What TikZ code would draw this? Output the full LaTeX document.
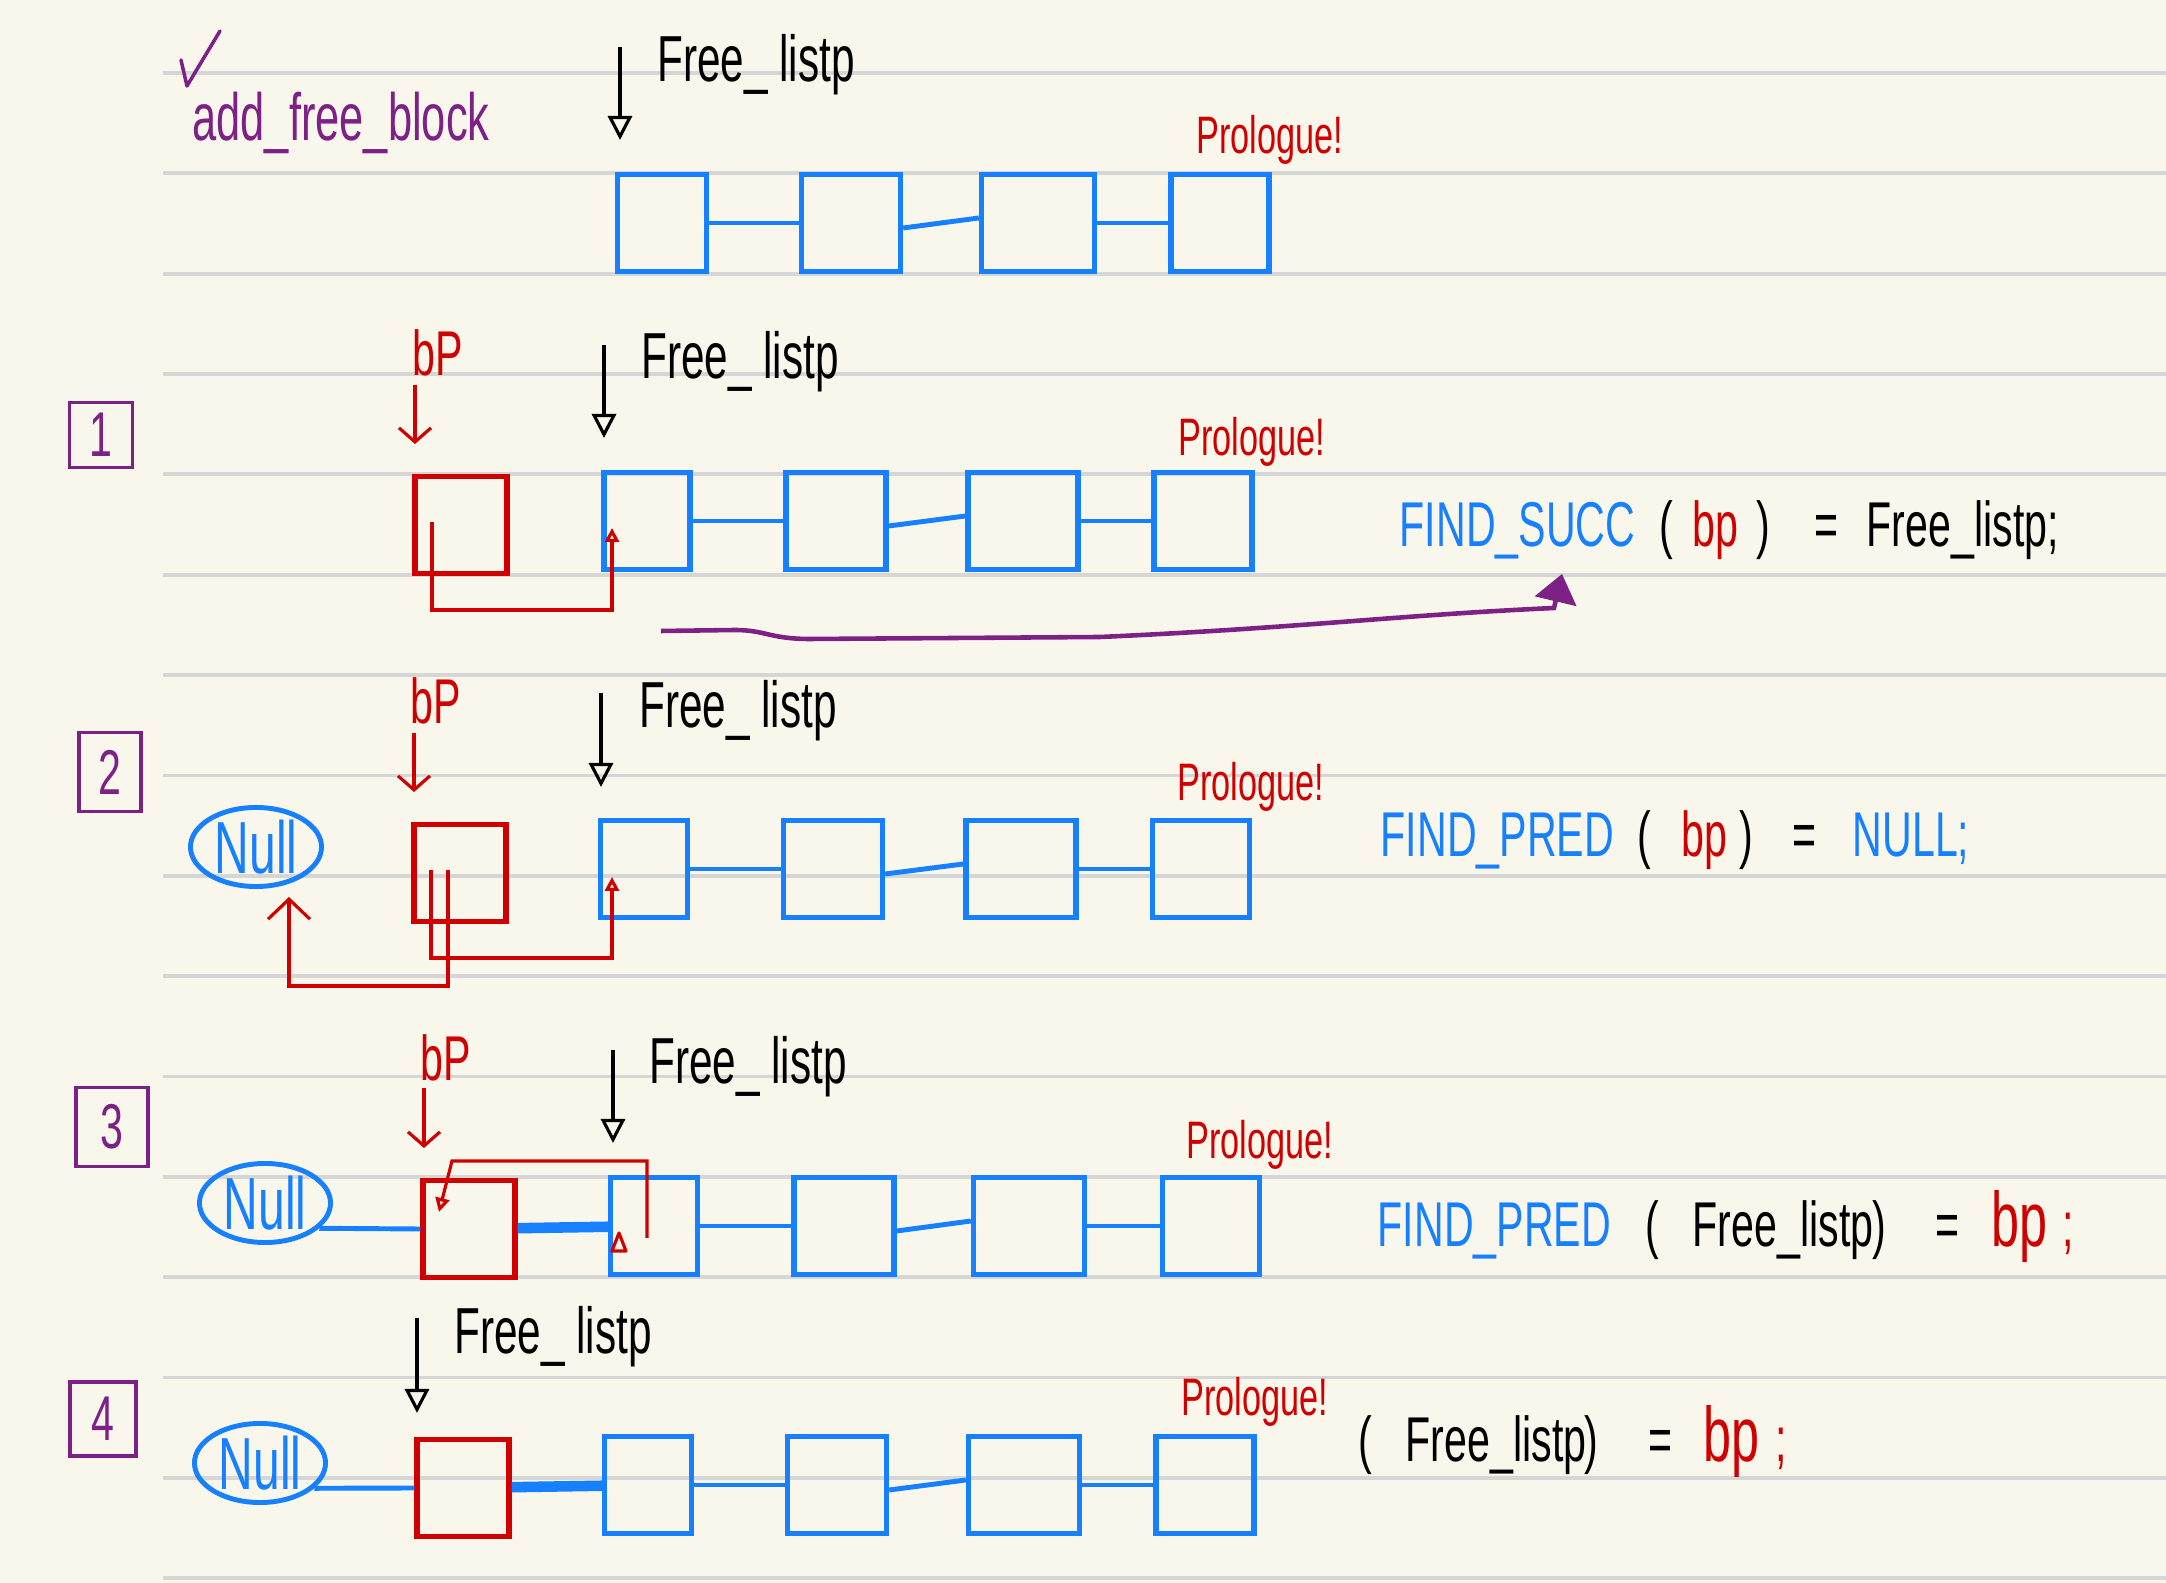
\documentclass[tikz,border=0pt]{standalone}
\usepackage{fontspec}
\usetikzlibrary{arrows.meta,shapes.geometric}
\newfontfamily\hand[FakeStretch=0.65]{Liberation Sans}
\definecolor{paper}{RGB}{249,247,235}
\definecolor{rulegray}{RGB}{214,214,214}
\definecolor{hblue}{RGB}{22,128,255}
\definecolor{hred}{RGB}{208,0,0}
\definecolor{hpurp}{RGB}{125,33,135}

\begin{document}
\begin{tikzpicture}[x=0.01cm,y=-0.01cm,
  rule/.style={rulegray,line width=1.1pt},
  blk/.style={draw=hblue,line width=1.5pt,minimum height=0.97cm,inner sep=0pt},
  bpblk/.style={blk,draw=hred,minimum width=0.92cm},
  link/.style={hblue,line width=1.4pt},
  fatlink/.style={hblue,line width=3pt},
  nullnd/.style={ellipse,draw=hblue,line width=1.4pt,text=hblue,minimum width=1.31cm,
    minimum height=0.79cm,inner sep=0pt,font=\hand\fontsize{21}{23}\selectfont},
  numbox/.style={draw=hpurp,line width=1.1pt,text=hpurp,inner sep=0pt,font=\hand\fontsize{18}{20}\selectfont},
  flbl/.style={inner sep=0pt,font=\hand\fontsize{18.5}{20}\selectfont},
  bplbl/.style={inner sep=0pt,text=hred,font=\hand\fontsize{18}{20}\selectfont},
  prlbl/.style={inner sep=0pt,text=hred,font=\hand\fontsize{15}{17}\selectfont},
  eq/.style={inner sep=0pt,anchor=base west,font=\hand\fontsize{18}{20}\selectfont},
  bigbp/.style={eq,text=hred,font=\hand\fontsize{22}{24}\selectfont},
  flarrow/.style={line width=0.9pt,-{Triangle[open,length=0.24cm,width=0.24cm]}},
  bparrow/.style={hred,line width=0.9pt,-{Straight Barb[length=0.14cm,width=0.32cm]}},
  ptr/.style={hred,line width=0.9pt,-{Triangle[open,length=0.14cm,width=0.14cm]}}]

  \fill[paper] (0,0) rectangle (2166,1583);
  \useasboundingbox (0,0) rectangle (2166,1583);
  \foreach \k in {0,...,15}
    \draw[rule] (163,{73+100.35*\k}) -- (2166,{73+100.35*\k});

  % header
  \draw[hpurp,line width=1pt,line cap=round,line join=round] (181,60) -- (187,86) -- (220,31);
  \node[inner sep=0pt,text=hpurp,font=\hand\fontsize{19}{21}\selectfont] (title) at (341,123) {add\_free\_block};
  \coordinate (fs0) at (620,47); \coordinate (fe0) at (620,140);
  \draw[flarrow] (fs0) -- (fe0);
  \node[flbl] (fl0) at (756,65) {Free\_ listp};
  \node[prlbl] (pr0) at (1270,140) {Prologue!};
  \node[blk,minimum width=0.89cm] (r0a) at (662,223) {};
  \node[blk,minimum width=0.99cm] (r0b) at (851,223) {};
  \node[blk,minimum width=1.13cm] (r0c) at (1038,223) {};
  \node[blk,minimum width=0.98cm] (r0d) at (1220,223) {};
  \draw[link] (r0a) -- (r0b);
  \draw[link] ([yshift=-0.05cm]r0b.east) -- ([yshift=0.05cm]r0c.west);
  \draw[link] (r0c) -- (r0d);

  % step 1
  \node[numbox,minimum width=0.63cm,minimum height=0.65cm] (n1) at (101,435) {1};
  \node[bplbl] (bpl1) at (438,353) {bP};
  \coordinate (bs1) at (415,385); \coordinate (be1) at (415,444);
  \draw[bparrow] (bs1) -- (be1);
  \coordinate (fs1) at (604,345); \coordinate (fe1) at (604,438);
  \draw[flarrow] (fs1) -- (fe1);
  \node[flbl] (fl1) at (740,362) {Free\_ listp};
  \node[prlbl] (pr1) at (1252,442) {Prologue!};
  \node[blk,bpblk] (bp1) at (461,525) {};
  \node[blk,minimum width=0.86cm] (r1a) at (647,521) {};
  \node[blk,minimum width=1.00cm] (r1b) at (836,521) {};
  \node[blk,minimum width=1.10cm] (r1c) at (1023,521) {};
  \node[blk,minimum width=0.98cm] (r1d) at (1203,521) {};
  \draw[link] (r1a) -- (r1b);
  \draw[link] ([yshift=-0.05cm]r1b.east) -- ([yshift=0.05cm]r1c.west);
  \draw[link] (r1c) -- (r1d);
  \coordinate (s1) at (432,522); \coordinate (t1) at (612,528);
  \draw[ptr] (s1) -- (432,610) -| (t1);
  \coordinate (ps) at (661,631); \coordinate (pe) at (1562,574);
  \draw[hpurp,line width=1.3pt,-{Triangle[length=0.28cm,width=0.42cm]}] (ps) -- (735,630)
    .. controls (765,630) and (770,639) .. (810,639) -- (1100,637)
    .. controls (1300,628) and (1400,615) .. (1554,608) -- (pe);
  \node[eq,text=hblue] (e1a) at (1399,547) {FIND\_SUCC};
  \node[eq] (e1b) at (1659,547) {(};
  \node[eq,text=hred] (e1c) at (1692,547) {bp};
  \node[eq] (e1d) at (1756,547) {)};
  \node[eq] (e1e) at (1814,547) {=};
  \node[eq] (e1f) at (1866,547) {Free\_listp;};

  % step 2
  \node[numbox,minimum width=0.62cm,minimum height=0.79cm] (n2) at (110,772) {2};
  \node[bplbl] (bpl2) at (436,701) {bP};
  \coordinate (bs2) at (414,733); \coordinate (be2) at (414,792);
  \draw[bparrow] (bs2) -- (be2);
  \coordinate (fs2) at (601,693); \coordinate (fe2) at (601,787);
  \draw[flarrow] (fs2) -- (fe2);
  \node[flbl] (fl2) at (738,711) {Free\_ listp};
  \node[prlbl] (pr2) at (1251,787) {Prologue!};
  \node[nullnd] (null2) at (256,847) {Null};
  \node[blk,bpblk] (bp2) at (460,873) {};
  \node[blk,minimum width=0.87cm] (r2a) at (644,869) {};
  \node[blk,minimum width=0.99cm] (r2b) at (833,869) {};
  \node[blk,minimum width=1.10cm] (r2c) at (1021,869) {};
  \node[blk,minimum width=0.97cm] (r2d) at (1201,869) {};
  \draw[link] (r2a) -- (r2b);
  \draw[link] ([yshift=-0.05cm]r2b.east) -- ([yshift=0.05cm]r2c.west);
  \draw[link] (r2c) -- (r2d);
  \coordinate (s2a) at (431,870); \coordinate (t2a) at (612,877);
  \draw[ptr] (s2a) -- (431,958) -| (t2a);
  \coordinate (s2b) at (448,870); \coordinate (t2b) at (289,897);
  \draw[hred,line width=0.9pt,-{Straight Barb[length=0.2cm,width=0.42cm]}] (s2b) -- (448,986) -| (t2b);
  \node[eq,text=hblue] (e2a) at (1380,857) {FIND\_PRED};
  \node[eq] (e2b) at (1637,857) {(};
  \node[eq,text=hred] (e2c) at (1681,857) {bp};
  \node[eq] (e2d) at (1739,857) {)};
  \node[eq] (e2e) at (1792,857) {=};
  \node[eq,text=hblue] (e2f) at (1852,857) {NULL;};

  % step 3
  \node[numbox,minimum width=0.72cm,minimum height=0.79cm] (n3) at (112,1127) {3};
  \node[bplbl] (bpl3) at (446,1058) {bP};
  \coordinate (bs3) at (424,1088); \coordinate (be3) at (424,1148);
  \draw[bparrow] (bs3) -- (be3);
  \coordinate (fs3) at (613,1050); \coordinate (fe3) at (613,1143);
  \draw[flarrow] (fs3) -- (fe3);
  \node[flbl] (fl3) at (748,1067) {Free\_ listp};
  \node[prlbl] (pr3) at (1260,1145) {Prologue!};
  \node[nullnd] (null3) at (265,1203) {Null};
  \node[blk,bpblk] (bp3) at (469,1229) {};
  \node[blk,minimum width=0.87cm] (r3a) at (654,1226) {};
  \node[blk,minimum width=1.00cm] (r3b) at (844,1226) {};
  \node[blk,minimum width=1.11cm] (r3c) at (1029,1226) {};
  \node[blk,minimum width=0.97cm] (r3d) at (1211,1226) {};
  \draw[link] (null3.-25) -- (bp3.west);
  \draw[fatlink] (bp3) -- (r3a);
  \draw[link] (r3a) -- (r3b);
  \draw[link] ([yshift=-0.05cm]r3b.east) -- ([yshift=0.05cm]r3c.west);
  \draw[link] (r3c) -- (r3d);
  \coordinate (s3) at (647,1238); \coordinate (t3) at (439,1212);
  \draw[ptr] (s3) -- (647,1161) -- (452,1161) -- (t3);
  \draw[hred,line width=0.9pt,line join=round] (612,1251) -- (619,1233) -- (626,1251) -- cycle;
  \node[eq,text=hblue] (e3a) at (1377,1247) {FIND\_PRED};
  \node[eq] (e3b) at (1645,1247) {(};
  \node[eq] (e3c) at (1692,1247) {Free\_listp};
  \node[eq] (e3d) at (1872,1247) {)};
  \node[eq] (e3e) at (1935,1247) {=};
  \node[bigbp] (e3f) at (1991,1247) {bp};
  \node[eq,text=hred] (e3g) at (2062,1247) {;};

  % step 4
  \node[numbox,minimum width=0.66cm,minimum height=0.74cm] (n4) at (103,1419) {4};
  \coordinate (fs4) at (417,1318); \coordinate (fe4) at (417,1413);
  \draw[flarrow] (fs4) -- (fe4);
  \node[flbl] (fl4) at (553,1337) {Free\_ listp};
  \node[prlbl] (pr4) at (1255,1402) {Prologue!};
  \node[nullnd] (null4) at (260,1463) {Null};
  \node[blk,bpblk] (bp4) at (463,1488) {};
  \node[blk,minimum width=0.87cm] (r4a) at (648,1485) {};
  \node[blk,minimum width=0.99cm] (r4b) at (837,1485) {};
  \node[blk,minimum width=1.11cm] (r4c) at (1024,1485) {};
  \node[blk,minimum width=0.98cm] (r4d) at (1205,1485) {};
  \draw[link] (null4.-25) -- (bp4.west);
  \draw[fatlink] (bp4) -- (r4a);
  \draw[link] (r4a) -- (r4b);
  \draw[link] ([yshift=-0.05cm]r4b.east) -- ([yshift=0.05cm]r4c.west);
  \draw[link] (r4c) -- (r4d);
  \node[eq] (e4a) at (1358,1462) {(};
  \node[eq] (e4b) at (1405,1462) {Free\_listp};
  \node[eq] (e4c) at (1584,1462) {)};
  \node[eq] (e4d) at (1648,1462) {=};
  \node[bigbp] (e4e) at (1703,1462) {bp};
  \node[eq,text=hred] (e4f) at (1775,1462) {;};
\end{tikzpicture}
\end{document}
